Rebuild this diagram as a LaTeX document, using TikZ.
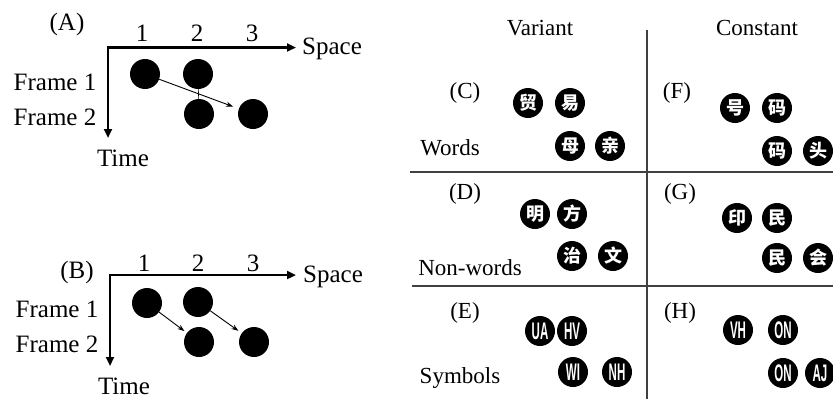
\documentclass[tikz,border=0pt]{standalone}
\usepackage{fontspec}
\setmainfont{Liberation Serif}
\newfontfamily\cjk{Noto Sans CJK SC}
\newfontfamily\symfont{Liberation Sans}
\usetikzlibrary{arrows.meta}
\tikzset{
  lab/.style={font=\fontsize{25}{29}\selectfont, inner sep=0pt},
  rlab/.style={font=\fontsize{23}{27}\selectfont, inner sep=0pt},
  ball/.style={circle, fill=black, minimum size=30pt, inner sep=0pt},
  chball/.style={circle, fill=black, minimum size=30pt, inner sep=0pt, text=white, font=\cjk\bfseries\fontsize{18}{18}\selectfont},
  symball/.style={circle, fill=black, minimum size=30pt, inner sep=0pt, text=white, font=\symfont\bfseries\fontsize{24}{24}\selectfont},
  axis/.style={line width=2.6pt, {Triangle[length=9pt,width=8pt]}-{Triangle[length=9pt,width=8pt]}},
  mv/.style={line width=0.9pt, -{Stealth[length=7pt,width=5pt]}},
  grid/.style={line width=1.1pt, draw=black!75},
}
\newcommand{\sq}[1]{\scalebox{0.48}[1]{#1}}
\begin{document}
\begin{tikzpicture}[x=1pt,y=-1pt]
\useasboundingbox (0,0) rectangle (833,399);
% ---------- Panel A ----------
\node[lab] (A) at (67,24) {(A)};
\node[lab] (nA1) at (142,33) {1};
\node[lab] (nA2) at (197,33) {2};
\node[lab] (nA3) at (252,33) {3};
\coordinate (oA) at (108,47.5);
\coordinate (xA) at (296,47.5);
\coordinate (yA) at (108,138);
\draw[axis] (xA) -- (oA) -- (yA);
\node[lab, anchor=west] (spA) at (302,49) {Space};
\node[lab] (tA) at (123,158) {Time};
\node[lab] (f1A) at (55,82) {Frame 1};
\node[lab] (f2A) at (55,117) {Frame 2};
\node[ball] (a1) at (145,74) {};
\node[ball] (a2) at (198,74) {};
\node[ball] (b2) at (199,114) {};
\node[ball] (b3) at (253,114) {};
\draw[line width=0.6pt] (a2) -- (b2);
\draw[mv, shorten >=6pt] (a1) -- (b3);
% ---------- Panel B ----------
\node[lab] (B) at (77,272) {(B)};
\node[lab] (nB1) at (144,263) {1};
\node[lab] (nB2) at (198,263) {2};
\node[lab] (nB3) at (253,263) {3};
\coordinate (oB) at (110,275);
\coordinate (xB) at (296,275);
\coordinate (yB) at (110,366);
\draw[axis] (xB) -- (oB) -- (yB);
\node[lab, anchor=west] (spB) at (303,277) {Space};
\node[lab] (tB) at (124,386) {Time};
\node[lab] (f1B) at (57,309) {Frame 1};
\node[lab] (f2B) at (57,344) {Frame 2};
\node[ball] (c1) at (147,303) {};
\node[ball] (c2) at (198,302) {};
\node[ball] (d2) at (199,342) {};
\node[ball] (d3) at (254,342) {};
\draw[mv, shorten >=3pt] (c1) -- (d2);
\draw[mv, shorten >=4pt] (c2) -- (d3);
% ---------- Right panel grid ----------
\node[rlab] (var) at (540,28) {Variant};
\node[rlab] (con) at (757,28) {Constant};
\coordinate (vt) at (647,30);
\coordinate (vb) at (647,399);
\coordinate (h1l) at (410,172);
\coordinate (h1r) at (833,172);
\coordinate (h2l) at (412,286);
\coordinate (h2r) at (833,286);
\draw[grid] (vt) -- (vb);
\draw[grid] (h1l) -- (h1r);
\draw[grid] (h2l) -- (h2r);
% C
\node[rlab] (C) at (465,93) {(C)};
\node[rlab] (words) at (450,148) {Words};
\node[chball] (c11) at (528,103) {贸};
\node[chball] (c12) at (570,103) {易};
\node[chball] (c21) at (570,146) {母};
\node[chball] (c22) at (610,146) {亲};
% F
\node[rlab] (F) at (677,93) {(F)};
\node[chball] (f11) at (735,108) {号};
\node[chball] (f12) at (777,108) {码};
\node[chball] (f21) at (777,151) {码};
\node[chball] (f22) at (818,151) {头};
% D
\node[rlab] (D) at (465,194) {(D)};
\node[rlab] (nw) at (470,268) {Non-words};
\node[chball] (d11) at (535,214) {明};
\node[chball] (d12) at (572,214) {方};
\node[chball] (d21) at (572,256) {治};
\node[chball] (d22) at (613,256) {文};
% G
\node[rlab] (G) at (680,194) {(G)};
\node[chball] (g11) at (737,218) {印};
\node[chball] (g12) at (777,218) {民};
\node[chball] (g21) at (777,258) {民};
\node[chball] (g22) at (818,258) {会};
% E
\node[rlab] (E) at (465,313) {(E)};
\node[rlab] (sy) at (460,378) {Symbols};
\node[symball] (e11) at (540,331) {\sq{UA}};
\node[symball] (e12) at (572,331) {\sq{HV}};
\node[symball] (e21) at (573,372) {\sq{WI}};
\node[symball] (e22) at (617,372) {\sq{NH}};
% H
\node[rlab] (H) at (680,313) {(H)};
\node[symball] (h11) at (738,330) {\sq{VH}};
\node[symball] (h12) at (783,330) {\sq{ON}};
\node[symball] (h21) at (783,373) {\sq{ON}};
\node[symball] (h22) at (820,373) {\sq{AJ}};
\end{tikzpicture}
\end{document}
